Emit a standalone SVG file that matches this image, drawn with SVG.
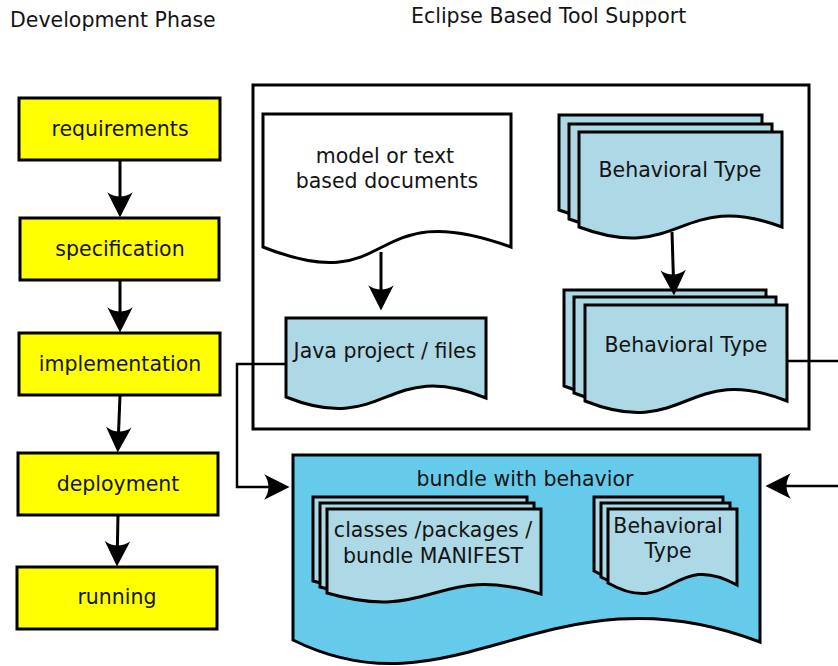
<svg xmlns="http://www.w3.org/2000/svg" width="838" height="666" viewBox="0 0 838 666">
<style>
text{font-family:"DejaVu Sans","Liberation Sans",sans-serif;font-size:20.5px;fill:#141414}
.c{text-anchor:middle}
.y{fill:#ffff00;stroke:#000;stroke-width:3}
.lb{fill:#add8e6;stroke:#000;stroke-width:3;stroke-linejoin:miter}
.doc{fill:#fff;stroke:#000;stroke-width:3}
.bun{fill:#66cbea;stroke:#000;stroke-width:3}
.ln{fill:none;stroke:#000;stroke-width:3}
.ln2{fill:none;stroke:#000;stroke-width:2.5}
</style>
<defs>
<marker id="ah" markerUnits="userSpaceOnUse" markerWidth="30" markerHeight="30" viewBox="-14 -13 26 26" refX="0" refY="0" orient="auto" overflow="visible">
<path d="M10,0 L-12,-11 C-7,-4 -7,4 -12,11 Z" fill="#000"/>
</marker>
</defs>
<rect width="838" height="666" fill="#fff"/>
<text x="10" y="27">Development Phase</text>
<text x="411" y="23">Eclipse Based Tool Support</text>
<rect id="tool-frame" x="253" y="85" width="556" height="344" fill="none" stroke="#000" stroke-width="3"/>
<g id="requirements"><rect class="y" x="19" y="98" width="201" height="62"/><text class="c" x="120" y="136">requirements</text></g>
<g id="specification"><rect class="y" x="20" y="218" width="199" height="62"/><text class="c" x="120" y="256">specification</text></g>
<g id="implementation"><rect class="y" x="19" y="333" width="201" height="62"/><text class="c" x="120" y="371">implementation</text></g>
<g id="deployment"><rect class="y" x="18" y="453" width="200" height="62"/><text class="c" x="118" y="491">deployment</text></g>
<g id="running"><rect class="y" x="17" y="567" width="200" height="62"/><text class="c" x="117" y="604">running</text></g>
<g id="documents"><path class="doc" d="M263,114 H511 V247 C362,193 399,301 263,247 Z"/><text class="c" x="385" y="163">model or text</text><text class="c" x="387" y="188">based documents</text></g>
<g id="java"><path class="lb" d="M286,318 H486 V398 C386,357 386,437 286,397 Z"/><text class="c" x="385" y="358">Java project / files</text></g>
<g id="behavioral-top">
<path class="lb" d="M559,115 H762 V210 C660,172 660,248 559,210 Z"/>
<path class="lb" d="M569,124 H772 V219 C670,181 670,257 569,219 Z"/>
<path class="lb" d="M579,132 H782 V227 C680,189 680,265 579,227 Z"/>
<text class="c" x="680" y="177">Behavioral Type</text></g>
<g id="behavioral-bottom">
<path class="lb" d="M564,290 H766 V386 C665,346 665,426 564,386 Z"/>
<path class="lb" d="M574,297 H776 V393 C675,353 675,433 574,393 Z"/>
<path class="lb" d="M585,305 H787 V401 C686,361 686,441 585,401 Z"/>
<text class="c" x="686" y="352">Behavioral Type</text></g>
<g id="bundle"><path class="bun" d="M293,455 H760 V642 C550,561 456,721 293,640 Z"/><text class="c" x="525" y="486">bundle with behavior</text>
<g id="classes">
<path class="lb" d="M313,497 H527 V582 C420,550 420,612 313,581 Z"/>
<path class="lb" d="M320,503 H534 V588 C427,556 427,618 320,587 Z"/>
<path class="lb" d="M327,509 H541 V594 C434,562 434,624 327,593 Z"/>
<text class="c" x="433" y="537">classes /packages /</text><text class="c" x="433" y="563">bundle MANIFEST</text></g>
<g id="behavioral-bundle">
<path class="lb" d="M594,497 H723 V573 C658,537 658,607 594,571 Z"/>
<path class="lb" d="M601,503 H730 V579 C665,543 665,613 601,577 Z"/>
<path class="lb" d="M608,509 H737 V585 C672,549 672,619 608,583 Z"/>
<text class="c" x="668" y="533">Behavioral</text><text class="c" x="668" y="558">Type</text></g>
</g>
<g id="connectors">
<path class="ln" d="M120,160 V206" marker-end="url(#ah)"/>
<path class="ln" d="M120,280 V321" marker-end="url(#ah)"/>
<path class="ln" d="M120,396 L118.2,441" marker-end="url(#ah)"/>
<path class="ln" d="M118,515 L117.2,555" marker-end="url(#ah)"/>
<path class="ln" d="M381,252 V299" marker-end="url(#ah)"/>
<path class="ln" d="M672,232 L673.6,284" marker-end="url(#ah)"/>
<path class="ln2" d="M286,364 H237 V487 H278" marker-end="url(#ah)"/>
<path class="ln2" d="M787,361 H838"/>
<path class="ln2" d="M838,486 H777" marker-end="url(#ah)"/>
</g>
</svg>
